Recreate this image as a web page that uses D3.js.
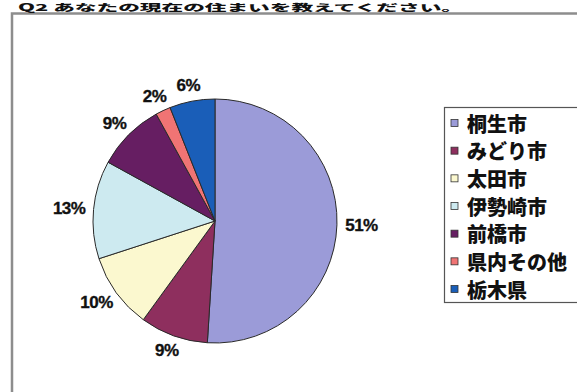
<!DOCTYPE html>
<html>
<head>
<meta charset="utf-8">
<script src="https://cdn.jsdelivr.net/npm/d3@7"></script>
<style>
html,body{margin:0;padding:0;background:#fff;overflow:hidden;}
svg{display:block;}
</style>
</head>
<body>
<svg id="chart" width="577" height="392"></svg>
<script>
const title = "Q2 あなたの現在の住まいを教えてください。";
const categories = ["桐生市", "みどり市", "太田市", "伊勢崎市", "前橋市", "県内その他", "栃木県"];
const values = [51, 9, 10, 13, 9, 2, 6];
const labels = ["51%", "9%", "10%", "13%", "9%", "2%", "6%"];
const colors = ["#9b9bd8", "#8e2f5e", "#fbf8cf", "#cdeaf0", "#661e62", "#f07474", "#1a5eb8"];

const svg = d3.select("#chart");
const W = 577, H = 392;

// outer frame
svg.append("path")
  .attr("d", `M12,${H+5} L12,13.5 L${W+5},13.5`)
  .attr("fill", "none").attr("stroke", "#8d8d8d").attr("stroke-width", 2.5);

// title, squeezed into the band above the frame
svg.append("text")
  .attr("x", 18).attr("y", 11.2)
  .attr("textLength", 445).attr("lengthAdjust", "spacingAndGlyphs")
  .style("font-family", "'Noto Sans CJK JP', sans-serif")
  .style("font-weight", "900").style("font-size", "9.5px")
  .attr("fill", "#111")
  .text(title);

// pie
const cx = 215, cy = 221, r = 122;
const pie = d3.pie().sort(null).value(d => d)(values);
const arc = d3.arc().innerRadius(0).outerRadius(r);
const g = svg.append("g").attr("transform", `translate(${cx},${cy})`);
g.selectAll("path.slice").data(pie).join("path")
  .attr("class", "slice")
  .attr("d", arc)
  .attr("fill", (d, i) => colors[i])
  .attr("stroke", "#2a2a2a").attr("stroke-width", 1);

// data labels at the outside end of each slice
const labelFont = "bold 17px 'Liberation Sans', Arial, sans-serif";
const ctx = document.createElement("canvas").getContext("2d");
ctx.font = labelFont;
function labelWidth(t) { return ctx.measureText(t).width - 0.5 * (t.length - 1); }

const color = d3.scaleOrdinal().domain(categories).range(colors);
g.selectAll("text.lab").data(pie).join("text")
  .attr("class", "lab")
  .style("font-family", "'Liberation Sans', Arial, sans-serif")
  .style("font-weight", "bold").style("font-size", "17px")
  .style("letter-spacing", "-0.5px")
  .attr("fill", "#111")
  .attr("stroke", "#111").attr("stroke-width", 0.35)
  .attr("text-anchor", "middle")
  .attr("dominant-baseline", "central")
  .attr("x", (d, i) => {
    const a = (d.startAngle + d.endAngle) / 2;
    const s = Math.sin(a);
    return (r + 8) * s + s * labelWidth(labels[i]) / 2;
  })
  .attr("y", d => {
    const a = (d.startAngle + d.endAngle) / 2;
    const c = -Math.cos(a);
    return (r + 8) * c + c * 8;
  })
  .text((d, i) => labels[i]);

// legend
const lg = svg.append("g");
lg.append("rect")
  .attr("x", 444.5).attr("y", 107.5).attr("width", 170).attr("height", 195)
  .attr("fill", "#fff").attr("stroke", "#555").attr("stroke-width", 1.2);
const yLeg = d3.scalePoint().domain(categories).range([123, 289]);
const rows = lg.selectAll("g.row").data(categories).join("g").attr("class", "row")
  .attr("transform", d => `translate(0,${yLeg(d)})`);
rows.append("rect")
  .attr("x", 451).attr("y", -3.5).attr("width", 7).attr("height", 7)
  .attr("fill", d => color(d)).attr("stroke", "#333").attr("stroke-width", 0.8);
rows.append("text")
  .attr("x", 467).attr("y", 0)
  .attr("dominant-baseline", "central")
  .style("font-family", "'Noto Sans CJK JP', sans-serif")
  .style("font-weight", "900").style("font-size", "20px")
  .attr("fill", "#111")
  .text(d => d);
</script>
</body>
</html>
